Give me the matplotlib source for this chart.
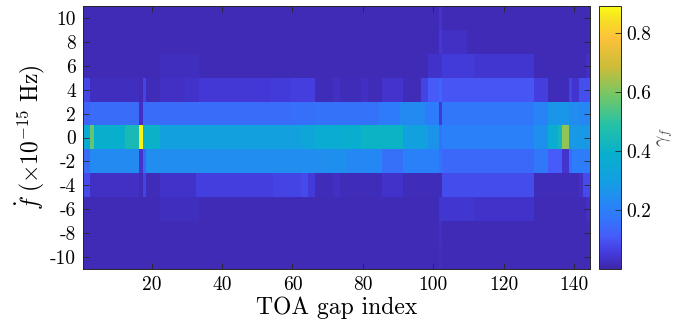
import numpy as np
import matplotlib.pyplot as plt
from matplotlib.colors import LinearSegmentedColormap

plt.rcParams['font.family'] = 'cmr10'
plt.rcParams['mathtext.fontset'] = 'cm'
plt.rcParams['axes.unicode_minus'] = False

n_gaps = 144
fdot_rows = [10, 8, 6, 4, 2, 0, -2, -4, -6, -8, -10]
xtick_vals = [20, 40, 60, 80, 100, 120, 140]
ytick_vals = [-10, -8, -6, -4, -2, 0, 2, 4, 6, 8, 10]
cbar_ticks = [0.2, 0.4, 0.6, 0.8]

# runs of (first gap, last gap, gamma_f), one list per fdot row
runs_p10 = [(1, 144, 0.015), (102, 102, 0.04)]
runs_p8 = [(1, 144, 0.015), (102, 109, 0.03), (102, 102, 0.05)]
runs_p6 = [(1, 144, 0.015), (23, 33, 0.025), (99, 102, 0.035), (103, 111, 0.055),
           (112, 128, 0.045), (144, 144, 0.03)]
runs_p4 = [(1, 144, 0.02), (1, 2, 0.07), (3, 16, 0.025), (17, 17, 0.015), (18, 18, 0.07),
           (23, 29, 0.03), (30, 33, 0.035), (34, 53, 0.05), (54, 59, 0.055), (60, 66, 0.06),
           (72, 73, 0.03), (80, 81, 0.03), (86, 91, 0.04), (97, 98, 0.07), (99, 101, 0.11),
           (102, 102, 0.14), (103, 128, 0.10), (129, 132, 0.06), (139, 139, 0.07),
           (140, 141, 0.04), (142, 144, 0.09)]
runs_p2 = [(1, 144, 0.15), (1, 2, 0.13), (17, 17, 0.03), (60, 66, 0.16), (67, 84, 0.17),
           (85, 90, 0.19), (91, 97, 0.23), (98, 101, 0.19), (102, 102, 0.05), (103, 128, 0.18),
           (129, 132, 0.21), (133, 138, 0.27), (139, 141, 0.24), (142, 144, 0.22)]
runs_0 = [(1, 2, 0.36), (3, 3, 0.57), (4, 12, 0.39), (13, 16, 0.45), (17, 17, 0.88),
          (18, 18, 0.41), (19, 22, 0.40), (23, 62, 0.31), (63, 66, 0.34), (67, 73, 0.37),
          (74, 79, 0.38), (80, 91, 0.41), (92, 98, 0.31), (99, 101, 0.26), (102, 102, 0.17),
          (103, 128, 0.20), (129, 132, 0.25), (133, 135, 0.37), (136, 136, 0.43),
          (137, 138, 0.62), (139, 144, 0.28)]
runs_m2 = [(1, 2, 0.15), (3, 16, 0.23), (17, 17, 0.04), (18, 18, 0.14), (19, 70, 0.24),
           (71, 75, 0.25), (76, 85, 0.22), (86, 91, 0.16), (92, 101, 0.20), (102, 102, 0.17),
           (103, 128, 0.14), (129, 132, 0.18), (133, 136, 0.11), (137, 138, 0.04),
           (139, 139, 0.15), (140, 144, 0.19)]
runs_m4 = [(1, 144, 0.02), (1, 2, 0.08), (3, 16, 0.03), (18, 18, 0.07), (23, 32, 0.035),
           (33, 54, 0.06), (55, 62, 0.07), (63, 64, 0.08), (65, 66, 0.055), (72, 73, 0.03),
           (86, 91, 0.035), (103, 128, 0.085), (142, 142, 0.03), (143, 144, 0.08)]
runs_m6 = [(1, 144, 0.015), (23, 33, 0.025), (102, 111, 0.045), (112, 128, 0.035),
           (144, 144, 0.03)]
runs_m8 = [(1, 144, 0.015), (102, 102, 0.03)]
runs_m10 = [(1, 144, 0.015), (102, 102, 0.025)]

all_runs = [runs_p10, runs_p8, runs_p6, runs_p4, runs_p2, runs_0,
            runs_m2, runs_m4, runs_m6, runs_m8, runs_m10]

gamma = np.zeros((len(fdot_rows), n_gaps))
for i, runs in enumerate(all_runs):
    for a, b, v in runs:
        gamma[i, a - 1:b] = v

# rough parula
parula_pts = [
    (0.00, (0.2422, 0.1504, 0.6603)),
    (0.06, (0.2670, 0.2300, 0.8600)),
    (0.12, (0.2780, 0.3560, 0.9780)),
    (0.22, (0.1700, 0.5000, 0.9800)),
    (0.33, (0.0800, 0.6200, 0.8900)),
    (0.44, (0.0300, 0.6900, 0.8000)),
    (0.55, (0.1500, 0.7600, 0.6500)),
    (0.66, (0.4500, 0.7800, 0.4000)),
    (0.77, (0.8000, 0.7400, 0.2200)),
    (0.88, (0.9900, 0.7600, 0.2300)),
    (0.94, (0.9700, 0.8600, 0.1500)),
    (1.00, (0.9769, 0.9839, 0.0805)),
]
parula = LinearSegmentedColormap.from_list('parula', parula_pts)

fig = plt.figure(figsize=(6.78, 3.36), dpi=100)
ax = fig.add_axes([83 / 678, 1 - 269 / 336, 507 / 678, 263 / 336])
im = ax.imshow(gamma, cmap=parula, vmin=0, vmax=0.89, aspect='auto',
               interpolation='nearest', extent=[0.5, n_gaps + 0.5, -11, 11])

ax.set_xticks(xtick_vals)
ax.set_xticklabels([str(v) for v in xtick_vals])
ax.set_yticks(ytick_vals)
ax.set_yticklabels([str(v) for v in ytick_vals])
ax.tick_params(direction='in', length=4, width=0.6, top=True, right=True,
               labelsize=14, color='#262626', pad=5)
for s in ax.spines.values():
    s.set_color('#262626')
    s.set_linewidth(0.7)

ax.set_xlabel('TOA gap index', fontsize=17, labelpad=2)
ax.set_ylabel(r'$\dot{f}\ (\times 10^{-15}\ \mathrm{Hz})$', fontsize=17, labelpad=2)

cax = fig.add_axes([599 / 678, 1 - 269 / 336, 22 / 678, 263 / 336])
cb = fig.colorbar(im, cax=cax, ticks=cbar_ticks)
cb.ax.set_yticklabels([str(v) for v in cbar_ticks])
cb.ax.tick_params(direction='in', length=4, width=0.6, labelsize=14, color='#262626')
cb.outline.set_edgecolor('#262626')
cb.outline.set_linewidth(0.7)
cb.set_label(r'$\gamma_f$', fontsize=14, color='#555555', labelpad=3)

fig.savefig('out.png', dpi=100)
